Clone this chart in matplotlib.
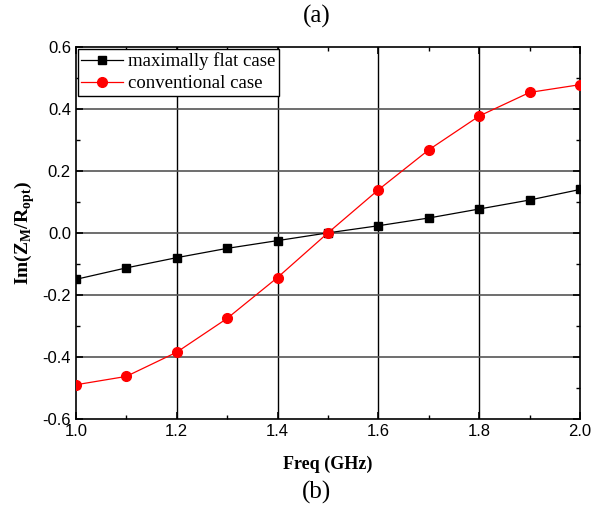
import matplotlib
matplotlib.use("Agg")
import matplotlib.pyplot as plt
from matplotlib.ticker import MultipleLocator

freq = [1.0, 1.1, 1.2, 1.3, 1.4, 1.5, 1.6, 1.7, 1.8, 1.9, 2.0]
flat_case = [-0.150, -0.113, -0.080, -0.050, -0.025, 0.0, 0.023, 0.048, 0.077, 0.106, 0.140]
conv_case = [-0.490, -0.463, -0.385, -0.276, -0.144, 0.0, 0.139, 0.268, 0.377, 0.453, 0.478]

plt.rcParams['font.family'] = 'Liberation Sans'

fig = plt.figure(figsize=(5.92, 5.09), dpi=100)
ax = fig.add_axes([0.128, 0.177, 0.852, 0.731])

# grid lines
for x in [1.2, 1.4, 1.6, 1.8]:
    ax.axvline(x, color='black', lw=1.0, zorder=1)
for y in [-0.4, -0.2, 0.0, 0.2, 0.4]:
    ax.axhline(y, color='#555555', lw=1.2, zorder=1)

ax.plot(freq, flat_case, color='black', marker='s', markersize=6, lw=0.9,
        label='maximally flat case', zorder=3)
ax.plot(freq, conv_case, color='red', marker='o', markersize=7, lw=0.9,
        label='conventional case', zorder=3)

ax.set_xlim(1.0, 2.0)
ax.set_ylim(-0.6, 0.6)
ax.xaxis.set_major_locator(MultipleLocator(0.2))
ax.xaxis.set_minor_locator(MultipleLocator(0.1))
ax.yaxis.set_major_locator(MultipleLocator(0.2))
ax.yaxis.set_minor_locator(MultipleLocator(0.1))
ax.xaxis.set_major_formatter(plt.FormatStrFormatter('%.1f'))
ax.yaxis.set_major_formatter(plt.FormatStrFormatter('%.1f'))
ax.tick_params(which='both', direction='in', top=True, right=True, labelsize=12)
ax.tick_params(which='major', length=5, width=1.2)
ax.tick_params(which='minor', length=3, width=1.0)
for s in ax.spines.values():
    s.set_linewidth(1.2)

ax.set_xlabel('Freq (GHz)', family='Liberation Serif', fontweight='bold', fontsize=13, labelpad=12)
ax.set_ylabel(r'Im(Z$_\mathregular{M}$/R$_\mathregular{opt}$)', family='Liberation Serif',
              fontweight='bold', fontsize=14, labelpad=4)

leg = ax.legend(loc='upper left', prop={'family': 'Liberation Serif', 'size': 13.5},
                frameon=True, fancybox=False, borderaxespad=0.1, handlelength=2.2,
                handletextpad=0.3, borderpad=0.2, labelspacing=0.25)
leg.get_frame().set_edgecolor('black')
leg.get_frame().set_linewidth(1.0)
leg.get_frame().set_alpha(1)

fig.text(0.535, 0.967, '(a)', ha='center', va='center', family='Liberation Serif', fontsize=18)
fig.text(0.535, 0.033, '(b)', ha='center', va='center', family='Liberation Serif', fontsize=18)

fig.savefig('out.png', dpi=100)
